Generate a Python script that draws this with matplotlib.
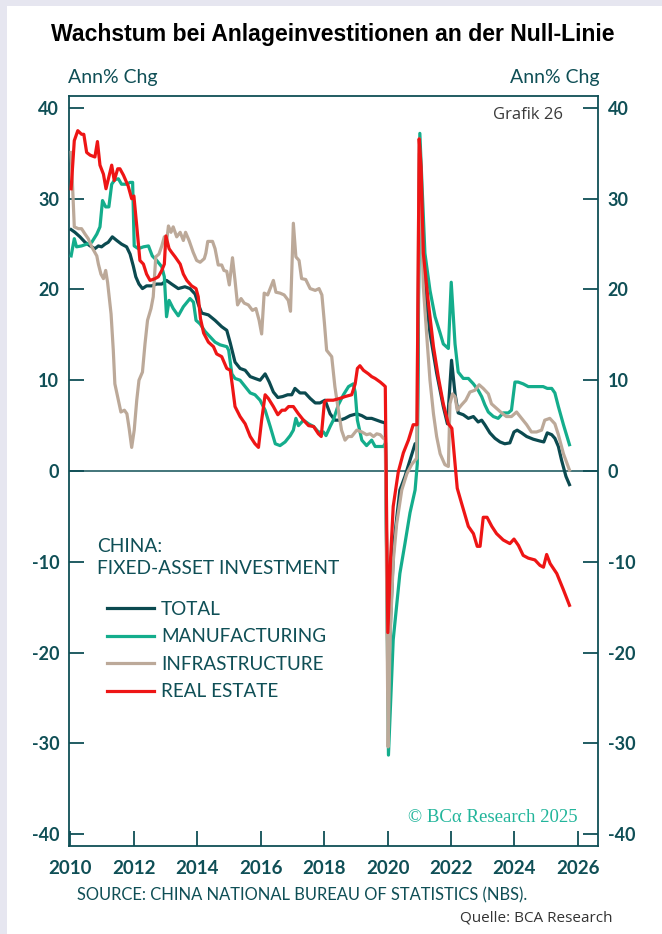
import matplotlib
matplotlib.use("Agg")
import matplotlib.pyplot as plt
from matplotlib.patches import Rectangle

plt.rcParams["axes.unicode_minus"] = False

# ---------------- data ----------------
total_t = [2010.02, 2010.14, 2010.30, 2010.46, 2010.62, 2010.77, 2010.88, 2010.98, 2011.09, 2011.19,
           2011.32, 2011.46, 2011.61, 2011.77, 2011.88, 2011.98, 2012.06, 2012.16, 2012.27, 2012.40,
           2012.56, 2012.72, 2012.88, 2013.03, 2013.19, 2013.40, 2013.61, 2013.77, 2013.93, 2014.03,
           2014.14, 2014.35, 2014.56, 2014.77, 2014.93, 2015.04, 2015.19, 2015.35, 2015.51, 2015.67,
           2015.82, 2015.98, 2016.14, 2016.27, 2016.40, 2016.54, 2016.69, 2016.85, 2016.98, 2017.08,
           2017.24, 2017.40, 2017.56, 2017.72, 2017.87, 2018.03, 2018.19, 2018.34, 2018.50, 2018.66,
           2018.82, 2019.03, 2019.19, 2019.34, 2019.50, 2019.66, 2019.82, 2019.93, 2020.02, 2020.10,
           2020.20, 2020.39, 2020.55, 2020.71, 2020.87, 2020.94, 2021.01, 2021.18, 2021.34, 2021.55,
           2021.76, 2021.89, 2022.02, 2022.13, 2022.23, 2022.39, 2022.55, 2022.71, 2022.86, 2022.97,
           2023.07, 2023.23, 2023.39, 2023.55, 2023.70, 2023.86, 2023.99, 2024.09, 2024.23, 2024.39,
           2024.60, 2024.81, 2024.93, 2025.04, 2025.18, 2025.28, 2025.39, 2025.49, 2025.63, 2025.74]
total_v = [26.6, 26.3, 25.8, 25.2, 24.8, 24.5, 24.8, 24.7, 25.0, 25.2,
           25.8, 25.4, 25.0, 24.7, 23.9, 22.6, 21.4, 20.6, 20.1, 20.4,
           20.4, 20.6, 20.6, 21.0, 20.6, 20.1, 20.3, 20.1, 19.5, 18.4,
           17.4, 17.2, 16.6, 15.9, 15.5, 14.1, 12.0, 11.3, 11.1, 10.4,
           10.2, 10.0, 10.7, 9.8, 8.7, 8.1, 8.2, 8.4, 8.4, 9.1,
           8.6, 8.6, 8.0, 7.5, 7.5, 7.8, 6.3, 5.6, 5.6, 5.8,
           6.1, 6.3, 6.1, 5.8, 5.8, 5.6, 5.4, 5.3, -24.5, -16.0,
           -8.0, -2.1, -0.6, 1.2, 3.0, 3.1, 35.0, 20.3, 15.2, 10.8,
           7.1, 5.2, 12.2, 8.5, 6.4, 6.2, 5.8, 6.0, 5.4, 5.6,
           5.1, 4.2, 3.6, 3.2, 3.0, 3.1, 4.3, 4.5, 4.2, 3.8,
           3.5, 3.3, 3.2, 4.2, 4.0, 3.6, 2.7, 1.2, -0.6, -1.5]

manuf_t = [2010.02, 2010.12, 2010.19, 2010.35, 2010.51, 2010.67, 2010.83, 2010.93, 2011.01, 2011.11,
           2011.21, 2011.30, 2011.40, 2011.51, 2011.61, 2011.77, 2011.88, 2011.96, 2012.01, 2012.14,
           2012.30, 2012.46, 2012.58, 2012.72, 2012.88, 2012.96, 2013.03, 2013.11, 2013.24, 2013.40,
           2013.56, 2013.77, 2013.88, 2013.96, 2014.09, 2014.24, 2014.40, 2014.56, 2014.72, 2014.93,
           2014.99, 2015.09, 2015.19, 2015.35, 2015.51, 2015.67, 2015.82, 2015.98, 2016.14, 2016.30,
           2016.46, 2016.61, 2016.77, 2016.93, 2017.03, 2017.11, 2017.19, 2017.35, 2017.51, 2017.67,
           2017.82, 2017.98, 2018.06, 2018.19, 2018.29, 2018.45, 2018.61, 2018.77, 2018.92, 2018.98,
           2019.05, 2019.19, 2019.34, 2019.50, 2019.61, 2019.77, 2019.87, 2019.94, 2020.03, 2020.18,
           2020.39, 2020.55, 2020.71, 2020.87, 2020.94, 2021.02, 2021.18, 2021.34, 2021.50, 2021.66,
           2021.76, 2021.92, 2022.01, 2022.13, 2022.23, 2022.39, 2022.55, 2022.71, 2022.86, 2022.97,
           2023.07, 2023.18, 2023.34, 2023.49, 2023.65, 2023.81, 2023.91, 2024.02, 2024.12, 2024.28,
           2024.44, 2024.60, 2024.75, 2024.91, 2025.04, 2025.18, 2025.28, 2025.39, 2025.55, 2025.74]
manuf_v = [23.7, 25.6, 24.7, 24.8, 25.0, 25.2, 26.1, 26.9, 29.8, 29.1,
           29.1, 31.6, 32.1, 32.2, 31.6, 31.6, 31.8, 31.8, 24.8, 24.5,
           24.7, 24.8, 23.7, 23.2, 22.5, 21.4, 17.0, 18.8, 17.9, 17.1,
           18.1, 19.0, 18.6, 16.6, 16.2, 15.4, 14.8, 14.2, 13.9, 13.7,
           13.3, 10.7, 10.2, 10.0, 9.3, 8.6, 8.4, 7.8, 6.7, 4.9,
           3.0, 2.8, 3.2, 3.9, 4.5, 5.8, 5.0, 5.6, 5.2, 4.9,
           4.3, 4.3, 3.9, 4.9, 5.6, 7.3, 8.4, 9.3, 9.6, 8.7,
           5.6, 3.4, 2.8, 3.4, 2.7, 2.7, 2.7, 3.1, -31.3, -18.6,
           -11.3, -8.0, -4.6, -2.1, 0.8, 37.2, 24.0, 19.9, 17.0, 15.2,
           14.0, 13.5, 20.8, 14.0, 10.9, 10.2, 10.2, 9.6, 8.9, 8.2,
           7.3, 6.5, 6.0, 5.8, 6.4, 6.4, 6.7, 9.8, 9.8, 9.6,
           9.3, 9.3, 9.3, 9.3, 9.1, 9.1, 8.6, 7.1, 5.1, 2.9]

infra_t = [2010.02, 2010.12, 2010.25, 2010.35, 2010.46, 2010.56, 2010.67, 2010.83, 2010.88, 2010.96,
           2011.04, 2011.11, 2011.17, 2011.28, 2011.35, 2011.40, 2011.51, 2011.59, 2011.70, 2011.78,
           2011.85, 2011.93, 2012.01, 2012.09, 2012.16, 2012.27, 2012.35, 2012.43, 2012.54, 2012.61,
           2012.69, 2012.79, 2012.88, 2012.96, 2013.03, 2013.09, 2013.17, 2013.24, 2013.35, 2013.46,
           2013.56, 2013.63, 2013.74, 2013.87, 2013.98, 2014.09, 2014.22, 2014.27, 2014.33, 2014.48,
           2014.56, 2014.66, 2014.77, 2014.84, 2014.93, 2015.01, 2015.11, 2015.19, 2015.27, 2015.38,
           2015.48, 2015.61, 2015.74, 2015.85, 2015.95, 2016.03, 2016.11, 2016.22, 2016.30, 2016.40,
           2016.48, 2016.61, 2016.74, 2016.87, 2016.94, 2017.03, 2017.11, 2017.21, 2017.29, 2017.42,
           2017.56, 2017.72, 2017.84, 2017.93, 2018.01, 2018.08, 2018.24, 2018.34, 2018.45, 2018.55,
           2018.66, 2018.76, 2018.87, 2019.03, 2019.19, 2019.34, 2019.45, 2019.56, 2019.66, 2019.77,
           2019.87, 2019.93, 2020.02, 2020.08, 2020.18, 2020.29, 2020.45, 2020.61, 2020.76, 2020.92,
           2021.00, 2021.13, 2021.24, 2021.34, 2021.45, 2021.55, 2021.66, 2021.81, 2021.92, 2021.97,
           2022.05, 2022.13, 2022.20, 2022.34, 2022.47, 2022.60, 2022.76, 2022.89, 2023.02, 2023.18,
           2023.28, 2023.44, 2023.60, 2023.75, 2023.91, 2024.07, 2024.23, 2024.39, 2024.54, 2024.70,
           2024.86, 2024.96, 2025.12, 2025.28, 2025.39, 2025.55, 2025.74]
infra_v = [35.1, 26.9, 26.7, 26.7, 26.1, 25.6, 24.7, 23.7, 22.8, 21.7,
           21.2, 22.1, 20.8, 17.3, 13.3, 9.6, 7.8, 6.5, 6.7, 6.3,
           4.7, 2.6, 4.5, 7.8, 10.0, 10.9, 14.0, 16.6, 17.9, 19.2,
           23.6, 23.9, 24.8, 25.8, 25.2, 27.0, 26.3, 26.9, 25.8, 26.3,
           25.4, 26.3, 25.4, 24.1, 23.2, 23.0, 23.4, 24.0, 25.3, 25.3,
           24.5, 22.7, 22.7, 22.1, 22.0, 20.5, 23.5, 21.0, 18.3, 19.0,
           18.5, 18.3, 17.7, 17.9, 16.6, 15.1, 19.6, 19.4, 20.1, 21.0,
           19.7, 19.6, 19.4, 18.8, 17.6, 27.3, 23.6, 23.2, 21.2, 21.1,
           20.1, 19.9, 20.1, 19.4, 16.3, 13.3, 12.6, 9.3, 6.7, 4.5,
           3.4, 3.8, 3.8, 4.5, 4.3, 4.0, 4.1, 3.8, 4.1, 4.0,
           3.6, 3.6, -30.4, -18.6, -10.0, -5.8, -2.1, -0.3, 0.7, 1.4,
           36.6, 20.3, 14.8, 10.0, 6.3, 3.8, 1.9, 0.7, 0.5, 7.4,
           8.5, 8.2, 6.7, 7.3, 7.8, 8.7, 8.9, 9.5, 9.1, 8.5,
           7.4, 6.9, 6.4, 6.0, 6.0, 6.5, 5.8, 5.1, 4.3, 4.3,
           4.5, 5.6, 5.8, 5.2, 4.0, 1.9, 0.1]

estate_t = [2010.02, 2010.12, 2010.23, 2010.35, 2010.42, 2010.51, 2010.62, 2010.77, 2010.85, 2010.93,
            2011.04, 2011.12, 2011.21, 2011.30, 2011.38, 2011.49, 2011.56, 2011.67, 2011.82, 2011.93,
            2012.00, 2012.09, 2012.19, 2012.30, 2012.40, 2012.51, 2012.67, 2012.77, 2012.88, 2012.96,
            2013.01, 2013.11, 2013.19, 2013.30, 2013.46, 2013.56, 2013.67, 2013.82, 2013.96, 2014.03,
            2014.10, 2014.20, 2014.35, 2014.51, 2014.61, 2014.77, 2014.93, 2015.04, 2015.11, 2015.19,
            2015.35, 2015.51, 2015.67, 2015.82, 2015.93, 2016.03, 2016.14, 2016.24, 2016.40, 2016.54,
            2016.67, 2016.77, 2016.88, 2017.03, 2017.19, 2017.35, 2017.51, 2017.67, 2017.82, 2017.91,
            2018.01, 2018.08, 2018.29, 2018.50, 2018.66, 2018.87, 2018.98, 2019.05, 2019.13, 2019.24,
            2019.40, 2019.50, 2019.61, 2019.77, 2019.87, 2019.93, 2020.01, 2020.10, 2020.18, 2020.34,
            2020.50, 2020.66, 2020.81, 2020.93, 2021.00, 2021.06, 2021.13, 2021.29, 2021.45, 2021.60,
            2021.76, 2021.92, 2022.03, 2022.13, 2022.20, 2022.34, 2022.55, 2022.71, 2022.83, 2022.92,
            2023.02, 2023.14, 2023.29, 2023.44, 2023.65, 2023.86, 2023.99, 2024.13, 2024.28, 2024.44,
            2024.65, 2024.81, 2024.92, 2025.02, 2025.13, 2025.34, 2025.55, 2025.74]
estate_v = [31.1, 36.4, 37.5, 37.1, 37.1, 35.1, 34.8, 34.6, 36.3, 33.7,
            32.7, 31.1, 32.4, 33.7, 32.0, 33.3, 33.3, 32.6, 31.4, 30.0,
            30.3, 27.0, 23.2, 22.8, 21.7, 21.0, 21.2, 21.4, 22.1, 22.8,
            25.9, 24.5, 24.1, 23.6, 22.8, 21.7, 21.0, 20.4, 20.1, 19.2,
            16.8, 15.2, 14.2, 13.7, 12.9, 12.6, 11.3, 11.1, 9.3, 7.1,
            6.0, 5.2, 3.8, 3.0, 2.6, 5.6, 8.4, 8.0, 7.1, 6.2,
            6.7, 6.7, 7.1, 7.1, 6.3, 5.6, 5.0, 4.9, 4.1, 3.8,
            7.6, 7.8, 7.8, 8.0, 8.2, 8.4, 9.6, 11.3, 11.6, 11.1,
            10.7, 10.4, 10.2, 9.8, 9.5, 9.3, -17.8, -9.4, -3.9, -0.1,
            2.0, 3.4, 5.1, 5.1, 36.6, 33.5, 24.0, 18.5, 13.7, 10.4,
            7.4, 5.2, 4.7, 0.8, -1.9, -3.6, -6.1, -6.9, -8.3, -8.3,
            -5.1, -5.1, -6.1, -6.9, -7.6, -8.0, -7.5, -8.2, -9.3, -9.6,
            -9.8, -10.4, -10.6, -9.2, -10.2, -11.3, -13.1, -14.8]

series_labels = ["TOTAL", "MANUFACTURING", "INFRASTRUCTURE", "REAL ESTATE"]
x_ticks = [2010, 2012, 2014, 2016, 2018, 2020, 2022, 2024, 2026]
y_ticks = [-40, -30, -20, -10, 0, 10, 20, 30, 40]

# ---------------- styling ----------------
TEAL = "#0f4f56"
C_TOTAL = "#0b4a50"
C_MANUF = "#14ad8c"
C_INFRA = "#bca999"
C_ESTATE = "#ee1515"
SANS = ["Lato", "DejaVu Sans"]

W, H = 662, 934
fig = plt.figure(figsize=(W / 100, H / 100), dpi=100)
fig.patch.set_facecolor("#e6e6f0")
fig.add_artist(Rectangle((7 / W, 0), 1 - 7 / W, 1 - 6 / H, transform=fig.transFigure,
                         facecolor="white", edgecolor="none", zorder=0))

def fx(x):
    return x / W

def fy(y):
    return 1 - y / H

ax = fig.add_axes([fx(69), fy(846), (598 - 69) / W, (846 - 96) / H])
ax.set_facecolor("white")

lw = 2.3
l_tot, = ax.plot(total_t, total_v, color=C_TOTAL, lw=lw, zorder=3)
l_man, = ax.plot(manuf_t, manuf_v, color=C_MANUF, lw=lw, zorder=4)
l_inf, = ax.plot(infra_t, infra_v, color=C_INFRA, lw=lw, zorder=5)
l_est, = ax.plot(estate_t, estate_v, color=C_ESTATE, lw=lw, zorder=6)

ax.axhline(0, color=TEAL, lw=1.1, zorder=2)

ax.set_xlim(2009.953, 2026.64)
ax.set_ylim(-41.32, 41.32)

for s in ax.spines.values():
    s.set_color(TEAL)
    s.set_linewidth(1.3)

ax.set_xticks(x_ticks)
ax.set_yticks(y_ticks)
ax.tick_params(axis="x", direction="in", length=10.5, width=1.3, color=TEAL, pad=10,
               labelsize=13.5, labelcolor=TEAL)
ax.tick_params(axis="y", direction="in", length=10.5, width=1.3, color=TEAL, pad=7,
               left=True, right=True, labelleft=True, labelright=True,
               labelsize=13, labelcolor=TEAL)
for t in ax.xaxis.get_major_ticks():
    t.label1.set_family(SANS)
    t.label1.set_fontweight("bold")
for t in ax.yaxis.get_major_ticks():
    for lab in (t.label1, t.label2):
        lab.set_family(SANS)
        lab.set_fontweight("bold")

# ---------------- texts ----------------
fig.text(fx(333), fy(35), "Wachstum bei Anlageinvestitionen an der Null-Linie",
         ha="center", va="center", fontsize=16.6, fontweight="bold",
         family=["Liberation Sans", "DejaVu Sans"], color="black")
fig.text(fx(68), fy(77), "Ann% Chg", ha="left", va="center", fontsize=14,
         family=SANS, color=TEAL)
fig.text(fx(599), fy(77), "Ann% Chg", ha="right", va="center", fontsize=14,
         family=SANS, color=TEAL)
fig.text(fx(563), fy(115), "Grafik 26", ha="right", va="center", fontsize=12,
         family=["Open Sans", "DejaVu Sans"], color="#3a3a3a")
fig.text(fx(578), fy(818), "© BCα Research 2025", ha="right", va="center", fontsize=13.5,
         family=["Liberation Serif", "DejaVu Serif"], color="#22b59b")

fig.text(fx(97), fy(547), "CHINA:", ha="left", va="center", fontsize=13.8,
         family=SANS, color=TEAL)
fig.text(fx(97), fy(569), "FIXED-ASSET INVESTMENT", ha="left", va="center", fontsize=13.8,
         family=SANS, color=TEAL)

leg = ax.legend([l_tot, l_man, l_inf, l_est], series_labels, loc="upper left",
                bbox_to_anchor=((107 - 69) / (598 - 69), (846 - 601) / (846 - 96)),
                frameon=False, handlelength=2.5, handletextpad=0.35,
                labelspacing=0.55, borderpad=0, borderaxespad=0,
                prop={"family": SANS, "size": 13.6})
for t in leg.get_texts():
    t.set_color(TEAL)

fig.text(fx(77), fy(895), "SOURCE: CHINA NATIONAL BUREAU OF STATISTICS (NBS).",
         ha="left", va="center", fontsize=11.9, family=SANS, color=TEAL)
fig.text(fx(612), fy(918), "Quelle: BCA Research", ha="right", va="center", fontsize=11,
         family=["Open Sans", "DejaVu Sans"], color="#333333")

fig.savefig("out.png", dpi=100, facecolor=fig.get_facecolor())
